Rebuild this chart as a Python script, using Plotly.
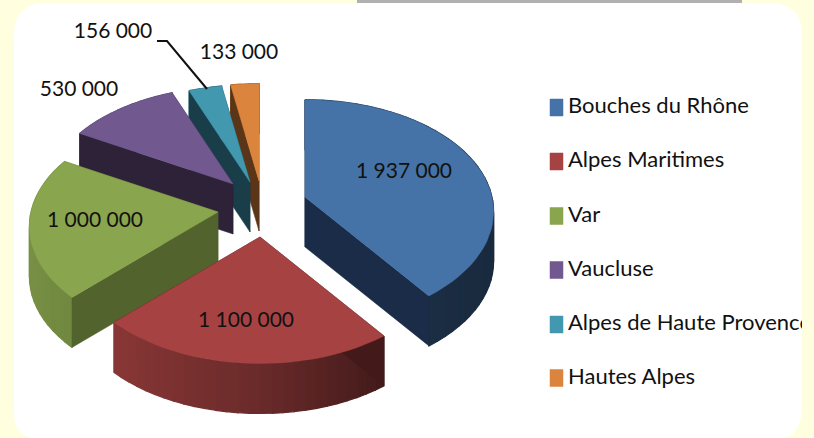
import numpy as np
import plotly.graph_objects as go

# --- data ---
departements = ["Bouches du Rhône", "Alpes Maritimes", "Var", "Vaucluse",
                "Alpes de Haute Provence", "Hautes Alpes"]
population = [1937000, 1100000, 1000000, 530000, 156000, 133000]
value_labels = ["1 937 000", "1 100 000", "1 000 000", "530 000", "156 000", "133 000"]

# --- styling and layout ---
top_colors = ["#4572a7", "#a64342", "#89a54e", "#71588f", "#4198af", "#db843d"]
side_colors = ["#1a2c47", "#431a19", "#53632e", "#2d2238", "#1a3d4a", "#5a3518"]
apex = [(305, 197), (260, 237), (218, 212), (233, 184), (250, 182), (259, 181)]
label_pos = [(404, 173), (246, 322), (95, 222), (79, 91), (113, 33), (239, 54)]
legend_y = [107.5, 161.5, 216, 270, 324.5, 378]
draw_order = [5, 4, 3, 2, 0, 1]
RX, TILT, PERSP, DEPTH = 187.0, 110.0, 7.67, 50.0
FONT = "Lato, sans-serif"
W, H = 814, 438


def project(theta):
    """Clockwise angle from 12 o'clock to perspective-tilted pie offsets."""
    X, Y = np.sin(theta), -np.cos(theta)
    s = PERSP / (PERSP - Y)
    return X * RX * s, Y * TILT * s


def hex_scale(c, f):
    r, g, b = int(c[1:3], 16), int(c[3:5], 16), int(c[5:7], 16)
    return f"rgb({int(r*f)},{int(g*f)},{int(b*f)})"


def poly(xs, ys, color, lw=0.5):
    return go.Scatter(x=list(xs) + [xs[0]], y=list(ys) + [ys[0]], mode="lines", fill="toself",
                      fillcolor=color, line=dict(width=lw, color=color),
                      hoverinfo="skip", showlegend=False)


fig = go.Figure()
total = sum(population)
edges = np.radians(np.concatenate([[0], np.cumsum(population)]) / total * 360)

for i in draw_order:
    t0, t1 = edges[i], edges[i + 1]
    ax, ay = apex[i]
    n = max(3, int(np.degrees(t1 - t0) / 3))
    ts = np.linspace(t0, t1, n + 1)
    dx, dy = project(ts)
    px, py = ax + dx, ay + dy
    # radial side faces: the one lying further back first
    order = sorted([0, n], key=lambda k: py[k])
    fig.add_trace(poly([ax, px[order[0]], px[order[0]], ax],
                       [ay, py[order[0]], py[order[0]] + DEPTH, ay + DEPTH], side_colors[i]))
    # outer rim, shaded from light (left) to dark (right)
    for k in range(n):
        xm = np.sin((ts[k] + ts[k + 1]) / 2)
        f = np.interp(xm, [-1, -0.7, 0, 0.6, 1], [0.88, 0.82, 0.64, 0.40, 0.37])
        c = hex_scale(top_colors[i], f)
        fig.add_trace(poly([px[k], px[k + 1], px[k + 1], px[k]],
                           [py[k], py[k + 1], py[k + 1] + DEPTH, py[k] + DEPTH], c, lw=1.2))
    fig.add_trace(poly([ax, px[order[1]], px[order[1]], ax],
                       [ay, py[order[1]], py[order[1]] + DEPTH, ay + DEPTH], side_colors[i]))
    # top face
    fig.add_trace(poly([ax] + list(px), [ay] + list(py), top_colors[i]))

# leader line for the small slice
fig.add_trace(go.Scatter(x=[157, 167, 207], y=[41, 41, 89], mode="lines",
                         line=dict(color="#111111", width=2), hoverinfo="skip", showlegend=False))

# value labels
fig.add_trace(go.Scatter(x=[p[0] for p in label_pos], y=[p[1] for p in label_pos], mode="text",
                         text=value_labels, textposition="middle center",
                         textfont=dict(family=FONT, size=21, color="#111111"),
                         hoverinfo="skip", showlegend=False))

# legend
for name, color, y in zip(departements, top_colors, legend_y):
    fig.add_trace(poly([550, 563, 563, 550], [y - 8.5, y - 8.5, y + 8.5, y + 8.5], color))
fig.add_trace(go.Scatter(x=[568] * 6, y=legend_y, mode="text", text=departements,
                         textposition="middle right", cliponaxis=False,
                         textfont=dict(family=FONT, size=22, color="#111111"),
                         hoverinfo="skip", showlegend=False))

yellow = "#ffffe0"
panel = ("M 14 36 Q 14 3 46 3 L 768 3 Q 802 3 802 34 L 802 405 "
         "Q 802 438 780 438 L 34 438 Q 14 438 14 410 Z")
shapes = [
    dict(type="path", path=panel, fillcolor="white", line=dict(width=0), layer="below"),
    dict(type="rect", x0=357, x1=742, y0=0, y1=3, fillcolor="#b0b0b0", line=dict(width=0), layer="below"),
    dict(type="rect", x0=802, x1=814, y0=0, y1=438, fillcolor=yellow, line=dict(width=0), layer="above"),
]

fig.update_layout(
    width=W, height=H, margin=dict(l=0, r=0, t=0, b=0),
    paper_bgcolor=yellow, plot_bgcolor="rgba(0,0,0,0)", showlegend=False, shapes=shapes,
    xaxis=dict(range=[0, W], visible=False, fixedrange=True),
    yaxis=dict(range=[H, 0], visible=False, fixedrange=True),
)
fig.write_html("out.html", config=dict(displayModeBar=False),
               post_script="document.body.style.margin='0';document.documentElement.style.overflow='hidden';")
